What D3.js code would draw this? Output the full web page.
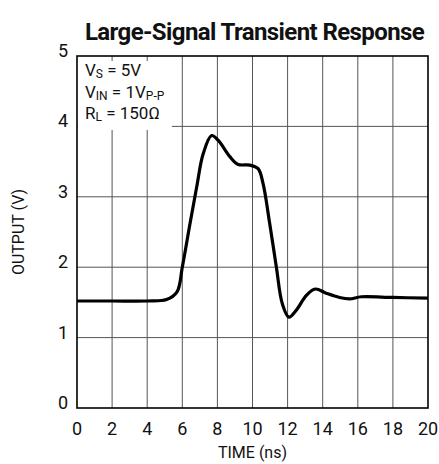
<!DOCTYPE html>
<meta charset="utf-8">
<style>
body { margin: 0; background: #fff; }
text { font-family: Roboto, "DejaVu Sans", sans-serif; fill: #111; }
.grid line { stroke: #555; stroke-width: 1; }
.frame { fill: none; stroke: #000; stroke-width: 1.6; }
.trace { fill: none; stroke: #000; stroke-width: 3.2; stroke-linejoin: round; }
</style>
<body>
<script src="https://d3js.org/d3.v7.min.js"></script>
<script>

// values
var timeNs  = [0, 2, 4, 5.1, 5.7, 6.0, 6.44, 6.82, 7.19, 7.67, 8.05, 8.71, 9.18, 9.85, 10.32, 10.6, 10.98, 11.36, 11.7, 12.08, 12.5, 13.07, 13.58, 14.2, 14.96, 15.53, 16.2, 18, 20];
var outputV = [1.52, 1.52, 1.52, 1.54, 1.65, 2.0, 2.62, 3.14, 3.61, 3.87, 3.80, 3.57, 3.46, 3.45, 3.40, 3.19, 2.62, 2.0, 1.48, 1.29, 1.39, 1.60, 1.69, 1.63, 1.57, 1.55, 1.58, 1.57, 1.56];

var xTicks = [0, 2, 4, 6, 8, 10, 12, 14, 16, 18, 20];
var yTicks = [0, 1, 2, 3, 4, 5];
var notes = [["V", "S", " = 5V", ""], ["V", "IN", " = 1V", "P-P"], ["R", "L", " = 150\u03A9", ""]];

var W = 439, H = 464;
var margin = {top: 56, right: 11, bottom: 56, left: 77};

var svg = d3.select("body").append("svg")
    .attr("width", W)
    .attr("height", H);

var x = d3.scaleLinear().domain([0, 20]).range([margin.left, W - margin.right]);
var y = d3.scaleLinear().domain([0, 5]).range([H - margin.bottom, margin.top]);

// title
svg.append("text")
    .attr("x", (x(0) + x(20)) / 2 + 2)
    .attr("y", 40)
    .attr("text-anchor", "middle")
    .style("font-weight", "bold")
    .style("font-size", "24px")
    .style("letter-spacing", "-0.6px")
    .text("Large-Signal Transient Response");

// grid
var grid = svg.append("g").attr("class", "grid");
grid.selectAll(".vx").data(xTicks.slice(1, -1)).enter().append("line")
    .attr("x1", d => x(d)).attr("x2", d => x(d))
    .attr("y1", y(0)).attr("y2", y(5));
grid.selectAll(".hy").data(yTicks.slice(1, -1)).enter().append("line")
    .attr("x1", x(0)).attr("x2", x(20))
    .attr("y1", d => y(d)).attr("y2", d => y(d));

// white patch behind the conditions text
svg.append("rect")
    .attr("x", x(0) + 1).attr("y", y(5) + 5)
    .attr("width", x(5.4) - x(0) - 1).attr("height", y(3.95) - y(5) - 5)
    .attr("fill", "#fff");

// trace
var line = d3.line()
    .x((d, i) => x(timeNs[i]))
    .y(d => y(d))
    .curve(d3.curveCatmullRom.alpha(0.5));

svg.append("path")
    .attr("class", "trace")
    .attr("d", line(outputV));

svg.append("rect")
    .attr("class", "frame")
    .attr("x", x(0)).attr("y", y(5))
    .attr("width", x(20) - x(0)).attr("height", y(0) - y(5));

// tick labels
svg.selectAll(".xl").data(xTicks).enter().append("text")
    .attr("x", d => x(d))
    .attr("y", y(0) + 27)
    .attr("text-anchor", "middle")
    .style("font-size", "18px")
    .text(d => d);

svg.selectAll(".yl").data(yTicks).enter().append("text")
    .attr("x", x(0) - 9)
    .attr("y", d => y(d) + 1)
    .attr("text-anchor", "end")
    .style("font-size", "18px")
    .text(d => d);

// axis titles
svg.append("text")
    .attr("x", (x(0) + x(20)) / 2)
    .attr("y", 458)
    .attr("text-anchor", "middle")
    .style("font-size", "16px")
    .text("TIME (ns)");

svg.append("text")
    .attr("transform", "translate(24," + y(2.5) + ") rotate(-90)")
    .attr("text-anchor", "middle")
    .style("font-size", "16px")
    .text("OUTPUT (V)");

// conditions: one text block, one row of tspans per line
var note = svg.append("text").style("font-size", "17px");
notes.forEach(function(d, i) {
  note.append("tspan").attr("x", x(0) + 8).attr("y", y(5) + 20 + i * 21.5).text(d[0]);
  note.append("tspan").attr("dy", 2).style("font-size", "12px").text(d[1]);
  note.append("tspan").attr("dy", -2).text(d[2]);
  if (d[3]) note.append("tspan").attr("dy", 2).style("font-size", "12px").text(d[3]);
});

</script>
</body>
